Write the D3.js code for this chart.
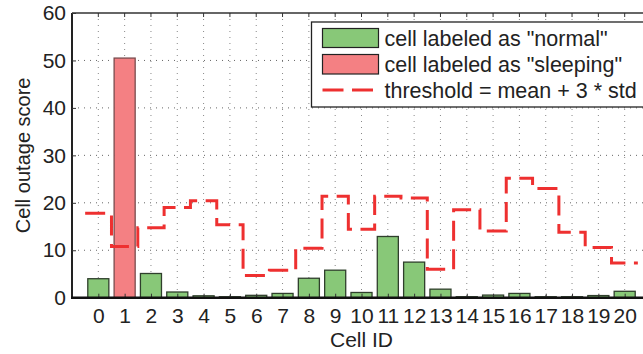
<!DOCTYPE html>
<html>
<head>
<meta charset="utf-8">
<script src="https://cdn.jsdelivr.net/npm/d3@7"></script>
<style>
  body { margin: 0; background: #fff; }
  svg { display: block; overflow: hidden; }
  text { font-family: "Liberation Sans", Arial, sans-serif; fill: #222; }
</style>
</head>
<body>
<div class="chart"></div>
<script>
var svgWidth = 643;
var svgHeight = 354;

// data
var cellIds = d3.range(0, 21);
var scores = [4.0, 50.5, 5.1, 1.2, 0.4, 0.2, 0.5, 0.9, 4.1, 5.8, 1.1,
              12.9, 7.5, 1.8, 0.2, 0.55, 0.9, 0.2, 0.2, 0.45, 1.35];
var labels = ["normal", "sleeping", "normal", "normal", "normal", "normal", "normal",
              "normal", "normal", "normal", "normal", "normal", "normal", "normal",
              "normal", "normal", "normal", "normal", "normal", "normal", "normal"];
var thresholds = [17.8, 10.8, 14.75, 19.0, 20.45, 15.4, 4.7, 5.8, 10.4, 21.4, 14.4,
                  21.4, 21.0, 6.0, 18.55, 14.05, 25.2, 23.0, 13.8, 10.6, 7.3];
var yTicks = [0, 10, 20, 30, 40, 50, 60];
var legendItems = ['cell labeled as "normal"', 'cell labeled as "sleeping"', 'threshold = mean + 3 * std'];

var colors = { normal: "#88c878", sleeping: "#f48083", line: "#ee3030" };

var plot = { left: 72, right: 651, top: 13, bottom: 297.7 };

var svg = d3.select(".chart")
  .append("svg")
  .attr("width", svgWidth)
  .attr("height", svgHeight);

// scales
var x = d3.scaleLinear()
  .domain([-1, 21])
  .range([plot.left, plot.right]);

var y = d3.scaleLinear()
  .domain([0, 60])
  .range([plot.bottom, plot.top]);

var step = x(1) - x(0);
var barW = step * 0.8;

// grid lines (dotted)
var grid = svg.append("g");
grid.selectAll("line.v")
  .data(cellIds)
  .enter().append("line")
  .attr("x1", d => x(d)).attr("x2", d => x(d))
  .attr("y1", plot.top).attr("y2", plot.bottom)
  .attr("stroke", "#888")
  .attr("stroke-width", 1)
  .attr("stroke-dasharray", "1,5");

grid.selectAll("line.h")
  .data(yTicks.slice(1, -1))
  .enter().append("line")
  .attr("x1", plot.left).attr("x2", plot.right)
  .attr("y1", d => y(d)).attr("y2", d => y(d))
  .attr("stroke", "#666")
  .attr("stroke-width", 1)
  .attr("stroke-dasharray", "1,5");

// bars
svg.append("g")
  .selectAll("rect")
  .data(cellIds)
  .enter().append("rect")
  .attr("x", d => x(d) - barW / 2)
  .attr("y", d => y(scores[d]))
  .attr("width", barW)
  .attr("height", d => y(0) - y(scores[d]))
  .attr("fill", d => colors[labels[d]])
  .attr("stroke", d => labels[d] == "sleeping" ? "#7a4c4e" : "#2f3f2c")
  .attr("stroke-width", 1.3);

// threshold step line
var stepPts = [];
cellIds.forEach(function (d) {
  stepPts.push([x(d - 0.5), y(thresholds[d])]);
  stepPts.push([x(d + 0.5), y(thresholds[d])]);
});
svg.append("path")
  .attr("d", d3.line()(stepPts))
  .attr("fill", "none")
  .attr("stroke", colors.line)
  .attr("stroke-width", 3)
  .attr("stroke-dasharray", "20,8.5");

// axes frame
var frame = svg.append("g");
frame.append("line")
  .attr("x1", plot.left).attr("x2", plot.right)
  .attr("y1", plot.top).attr("y2", plot.top)
  .attr("stroke", "#333").attr("stroke-width", 1.5);
frame.append("line")
  .attr("x1", plot.left).attr("x2", plot.left)
  .attr("y1", plot.top).attr("y2", plot.bottom)
  .attr("stroke", "#222").attr("stroke-width", 2);

// ticks on top border
frame.selectAll("line.tt")
  .data(cellIds)
  .enter().append("line")
  .attr("x1", d => x(d)).attr("x2", d => x(d))
  .attr("y1", plot.top).attr("y2", plot.top + 4)
  .attr("stroke", "#333").attr("stroke-width", 1);

// y axis
var leftAxis = d3.axisLeft(y)
  .tickValues(yTicks)
  .tickSize(-4)
  .tickPadding(6);
var yAxis = svg.append("g")
  .attr("transform", `translate(${plot.left}, 0)`)
  .call(leftAxis);
yAxis.select(".domain").remove();
yAxis.selectAll(".tick line").attr("stroke", "#333");
yAxis.selectAll("text")
  .style("font-size", "21px")
  .attr("fill", "#222");

// x axis
var bottomAxis = d3.axisBottom(x)
  .tickValues(cellIds)
  .tickFormat(d3.format("d"))
  .tickSize(-4)
  .tickPadding(10);
var xAxis = svg.append("g")
  .attr("transform", `translate(0, ${plot.bottom})`)
  .call(bottomAxis);
xAxis.select(".domain").remove();
xAxis.selectAll(".tick line").attr("stroke", "#333");
xAxis.selectAll("text")
  .style("font-size", "21px")
  .attr("fill", "#222");

svg.append("line")
  .attr("x1", plot.left - 1).attr("x2", plot.right)
  .attr("y1", plot.bottom).attr("y2", plot.bottom)
  .attr("stroke", "#111").attr("stroke-width", 2.5);

// axis labels
svg.append("text")
  .attr("transform", `translate(30, ${(plot.top + plot.bottom) / 2}) rotate(-90)`)
  .attr("text-anchor", "middle")
  .style("font-size", "20px")
  .text("Cell outage score");

svg.append("text")
  .attr("x", (plot.left + plot.right) / 2)
  .attr("y", 347)
  .attr("text-anchor", "middle")
  .style("font-size", "21px")
  .text("Cell ID");

// legend
var legend = svg.append("g").attr("transform", "translate(311.5, 22)");
legend.append("rect")
  .attr("x", 0).attr("y", 0)
  .attr("width", 340).attr("height", 85)
  .attr("fill", "#fff")
  .attr("stroke", "#222")
  .attr("stroke-width", 1.3);

var rowY = [16.5, 42.5, 68];
legend.append("rect")
  .attr("x", 11).attr("y", 6.5).attr("width", 56).attr("height", 19)
  .attr("fill", colors.normal).attr("stroke", "#222").attr("stroke-width", 1.2);
legend.append("rect")
  .attr("x", 11).attr("y", 32.5).attr("width", 56).attr("height", 19.5)
  .attr("fill", colors.sleeping).attr("stroke", "#222").attr("stroke-width", 1.2);
legend.append("line")
  .attr("x1", 11).attr("x2", 67)
  .attr("y1", rowY[2]).attr("y2", rowY[2])
  .attr("stroke", colors.line).attr("stroke-width", 3)
  .attr("stroke-dasharray", "21,8.5");

legend.selectAll("text.leg")
  .data(legendItems)
  .enter().append("text")
  .attr("x", 73)
  .attr("y", (d, i) => rowY[i])
  .attr("dy", "0.35em")
  .style("font-size", "21.5px")
  .text(d => d);
</script>
</body>
</html>
